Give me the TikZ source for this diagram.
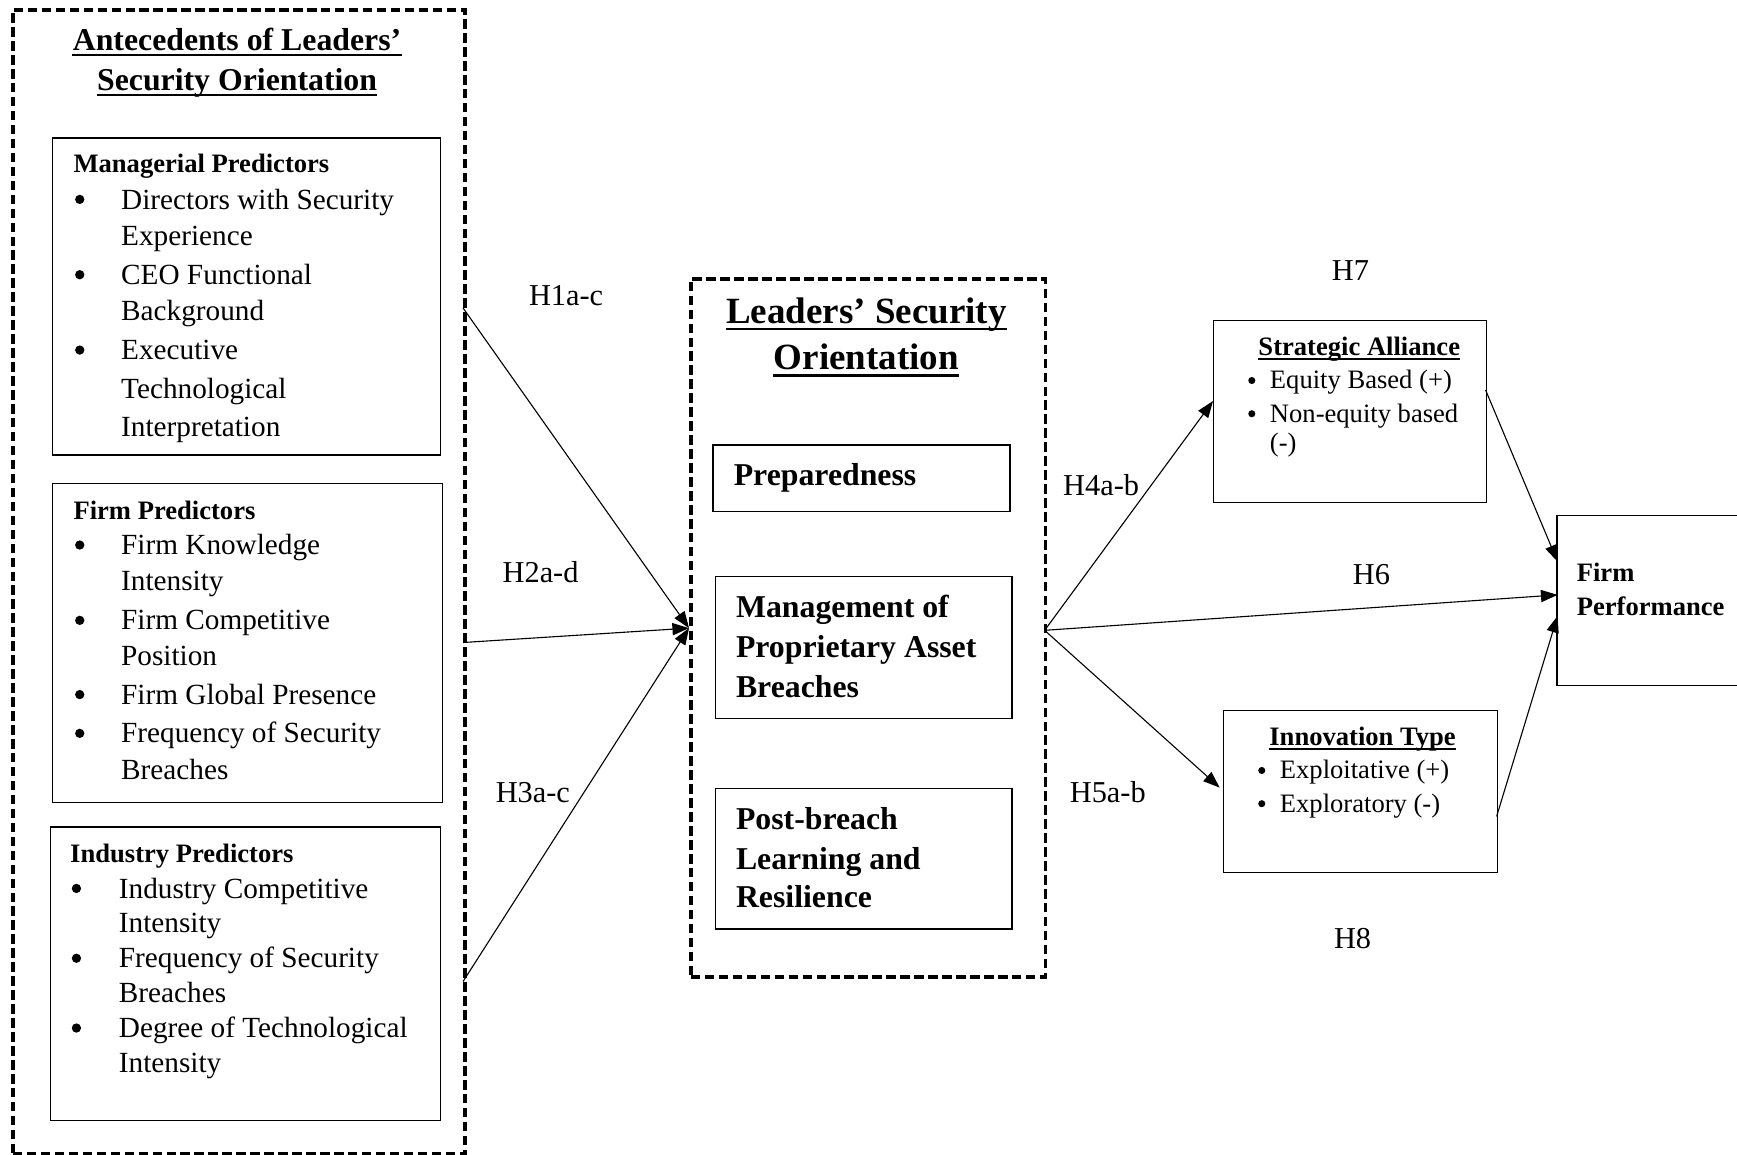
\documentclass[tikz,border=0pt]{standalone}
\usepackage{fontspec}
\setmainfont{Liberation Serif}
\usetikzlibrary{arrows.meta,calc}
\begin{document}
\begin{tikzpicture}[x=0.5pt,y=-0.5pt,
  dbox/.style={draw, line width=1.7pt, dash pattern=on 4.3pt off 2pt, anchor=north west, inner sep=0},
  sbox/.style={draw, line width=0.6pt, anchor=north west, inner sep=0},
  txt/.style={anchor=base west, inner sep=0, font=\fontsize{13.2}{16}\selectfont},
  bul/.style={circle, fill, inner sep=0, minimum size=4.2pt},
  hdr/.style={anchor=base west, inner sep=0, font=\fontsize{12}{14}\selectfont\bfseries},
  ttl/.style={anchor=base, inner sep=0, font=\fontsize{14.35}{17}\selectfont\bfseries},
  mttl/.style={anchor=base, inner sep=0, font=\fontsize{16.7}{20}\selectfont\bfseries},
  mtxt/.style={anchor=base west, inner sep=0, font=\fontsize{14.35}{17}\selectfont\bfseries},
  rtxt/.style={anchor=base west, inner sep=0, font=\fontsize{12}{14}\selectfont},
  rbul/.style={circle, fill, inner sep=0, minimum size=3.2pt},
  rhdr/.style={anchor=base, inner sep=0, font=\fontsize{12}{14}\selectfont\bfseries},
  hlab/.style={anchor=base, inner sep=0, font=\fontsize{13.7}{16}\selectfont},
  arr/.style={-{Triangle[length=7.5pt,width=5.5pt]}, line width=0.5pt},
  uline/.style={line width=1pt}
]
\useasboundingbox (0,0) rectangle (1568,1042.6);
\clip (0,0) rectangle (1568,1042.6);

% ---------- left dashed container ----------
\node[dbox, minimum width=204pt, minimum height=516.5pt] (outer) at (10,7) {};
\node[ttl] (lt1) at (214,45.5) {Antecedents of Leaders’};
\node[ttl] (lt2) at (214,81.5) {Security Orientation};
\draw[uline] ($(lt1.base west)+(0,4)$) -- ($(lt1.base east)+(0,4)$);
\draw[uline] ($(lt2.base west)+(0,4)$) -- ($(lt2.base east)+(0,4)$);

% Managerial
\node[sbox, minimum width=175pt, minimum height=143pt] (mgr) at (47,124) {};
\node[hdr] (mh) at (66,156) {Managerial Predictors};
\node[bul] (mb1) at (72,180) {};
\node[txt] (m1) at (109,188.7) {Directors with Security};
\node[txt] (m2) at (109,221.7) {Experience};
\node[bul] (mb2) at (72,248) {};
\node[txt] (m3) at (109,256.7) {CEO Functional};
\node[txt] (m4) at (109,289.7) {Background};
\node[bul] (mb3) at (72,316) {};
\node[txt] (m5) at (109,324.7) {Executive};
\node[txt] (m6) at (109,359.7) {Technological};
\node[txt] (m7) at (109,393.7) {Interpretation};

% Firm
\node[sbox, minimum width=176pt, minimum height=144pt] (firm) at (47,436) {};
\node[hdr] (fh) at (66,469) {Firm Predictors};
\node[bul] (fb1) at (72,492) {};
\node[txt] (f1) at (109,500.7) {Firm Knowledge};
\node[txt] (f2) at (109,532.7) {Intensity};
\node[bul] (fb2) at (72,560) {};
\node[txt] (f3) at (109,568.7) {Firm Competitive};
\node[txt] (f4) at (109,600.7) {Position};
\node[bul] (fb3) at (72,627) {};
\node[txt] (f5) at (109,635.7) {Firm Global Presence};
\node[bul] (fb4) at (72,662) {};
\node[txt] (f6) at (109,670.7) {Frequency of Security};
\node[txt] (f7) at (109,703.7) {Breaches};

% Industry
\node[sbox, minimum width=176pt, minimum height=132.5pt] (ind) at (45,746) {};
\node[hdr] (ih) at (63,779) {Industry Predictors};
\node[bul] (ib1) at (69,802) {};
\node[txt] (i1) at (107,810.7) {Industry Competitive};
\node[txt] (i2) at (107,841.7) {Intensity};
\node[bul] (ib2) at (69,865) {};
\node[txt] (i3) at (107,873.7) {Frequency of Security};
\node[txt] (i4) at (107,904.7) {Breaches};
\node[bul] (ib3) at (69,928) {};
\node[txt] (i5) at (107,936.7) {Degree of Technological};
\node[txt] (i6) at (107,967.7) {Intensity};

% ---------- middle dashed container ----------
\node[dbox, minimum width=160pt, minimum height=315pt] (mid) at (622,250) {};
\node[mttl] (ct1) at (782,292) {Leaders’ Security};
\node[mttl] (ct2) at (782,334) {Orientation};
\draw[uline, line width=1.2pt] ($(ct1.base west)+(0,5)$) -- ($(ct1.base east)+(0,5)$);
\draw[uline, line width=1.2pt] ($(ct2.base west)+(0,5)$) -- ($(ct2.base east)+(0,5)$);

\node[sbox, minimum width=134pt, minimum height=30pt] (prep) at (643,401) {};
\node[mtxt] (p1) at (662,438.5) {Preparedness};

\node[sbox, minimum width=134pt, minimum height=64pt] (mgmt) at (645,520) {};
\node[mtxt] (g1) at (664,557.5) {Management of};
\node[mtxt] (g2) at (664,593.5) {Proprietary Asset};
\node[mtxt] (g3) at (664,629.5) {Breaches};

\node[sbox, minimum width=134pt, minimum height=63.5pt] (post) at (645,711) {};
\node[mtxt] (q1) at (664,748.5) {Post-breach};
\node[mtxt] (q2) at (664,784.5) {Learning and};
\node[mtxt] (q3) at (664,819.5) {Resilience};

% ---------- right side ----------
\node[sbox, minimum width=123pt, minimum height=82pt] (sa) at (1095,289) {};
\node[rhdr] (sah) at (1227,321) {Strategic Alliance};
\draw[line width=0.7pt] ($(sah.base west)+(0,3)$) -- ($(sah.base east)+(0,3)$);
\node[rbul] (sab1) at (1130,343.5) {};
\node[rtxt] (sa1) at (1146,351) {Equity Based (+)};
\node[rbul] (sab2) at (1130,373.5) {};
\node[rtxt] (sa2) at (1146,381) {Non-equity based};
\node[rtxt] (sa3) at (1146,408) {(-)};

\node[sbox, minimum width=123.5pt, minimum height=73pt] (inn) at (1104,641) {};
\node[rhdr] (inh) at (1230,673) {Innovation Type};
\draw[line width=0.7pt] ($(inh.base west)+(0,3)$) -- ($(inh.base east)+(0,3)$);
\node[rbul] (inb1) at (1139,695.5) {};
\node[rtxt] (in1) at (1155,703) {Exploitative (+)};
\node[rbul] (inb2) at (1139,725.5) {};
\node[rtxt] (in2) at (1155,733) {Exploratory (-)};

\node[sbox, minimum width=90pt, minimum height=76.5pt] (fp) at (1405,465) {};
\node[hdr] (fp1) at (1423,525) {Firm};
\node[hdr] (fp2) at (1423,556) {Performance};

% ---------- labels ----------
\node[hlab] (h1) at (511,276) {H1a-c};
\node[hlab] (h2) at (488,526) {H2a-d};
\node[hlab] (h3) at (481,724) {H3a-c};
\node[hlab] (h4) at (994,447) {H4a-b};
\node[hlab] (h5) at (1000,724) {H5a-b};
\node[hlab] (h6) at (1238,528) {H6};
\node[hlab] (h7) at (1219,253) {H7};
\node[hlab] (h8) at (1221,856) {H8};

% ---------- connector end points ----------
\coordinate (o1) at (418,278);
\coordinate (o2) at (418,580);
\coordinate (o3) at (418,886);
\coordinate (mw) at (622,567);
\coordinate (me) at (943,569);
\coordinate (saw) at (1095,362);
\coordinate (sae) at (1341,352);
\coordinate (inw) at (1101,711);
\coordinate (ine) at (1351,737);
\coordinate (fpa) at (1406,507);
\coordinate (fpb) at (1406,537);
\coordinate (fpc) at (1406,556);

\draw[arr] (o1) -- (mw);
\draw[arr] (o2) -- (mw);
\draw[arr] (o3) -- (mw);
\draw[arr] (me) -- (saw);
\draw[arr] (me) -- (fpb);
\draw[arr] (me) -- (inw);
\draw[arr] (sae) -- (fpa);
\draw[arr] (ine) -- (fpc);
\end{tikzpicture}
\end{document}
